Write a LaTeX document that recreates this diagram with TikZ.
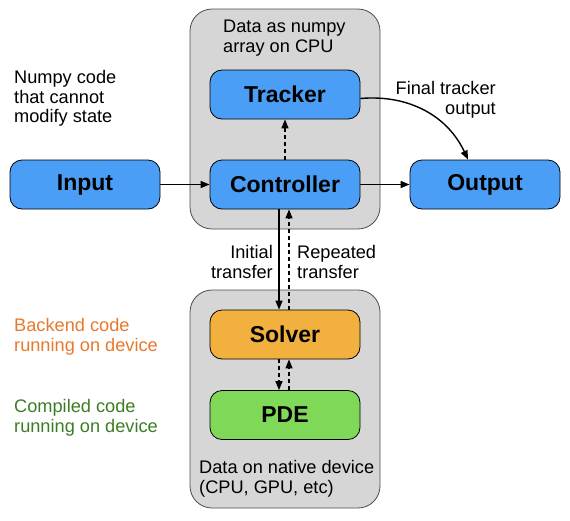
\documentclass[tikz,border=0pt]{standalone}
\usepackage{fontspec}
\setmainfont{Liberation Sans}
\usetikzlibrary{arrows.meta}

\definecolor{boxblue}{HTML}{4A9EF5}
\definecolor{boxorange}{HTML}{F2B03E}
\definecolor{boxgreen}{HTML}{7FD858}
\definecolor{regiongray}{HTML}{D6D6D6}
\definecolor{noteorange}{HTML}{E8782B}
\definecolor{notegreen}{HTML}{3B7D25}

\begin{document}
\begin{tikzpicture}
[x=1pt,y=-1pt,>={Triangle[length=9pt,width=7pt]},%
  block/.style={shape=rectangle,rounded corners=12pt,draw,line width=0.8pt,
    minimum width=150pt,minimum height=49pt,
    font=\fontsize{23}{27}\selectfont\bfseries},%
  region/.style={shape=rectangle,rounded corners=22pt,draw=black!70,line width=0.8pt,
    fill=regiongray,minimum width=190pt},%
  note/.style={inner sep=0pt,font=\fontsize{18.2}{19.8}\selectfont},%
  flow/.style={->,line width=1.4pt},%
  back/.style={->,line width=1.3pt,dash pattern=on 4pt off 3pt}]
\useasboundingbox (0,0) rectangle (570,520);
%%
\node[region,minimum height=220pt] (cpu) at (285,119) {};
\node[region,minimum height=218pt] (dev) at (285,399) {};
%%
\node[block,fill=boxblue] (input) at (85,184.5) {Input};
\node[block,fill=boxblue] (tracker) at (285,94.5) {Tracker};
\node[block,fill=boxblue] (controller) at (285,184.5) {Controller};
\node[block,fill=boxblue] (output) at (485,184.5) {Output};
\node[block,fill=boxorange] (solver) at (285,334.5) {Solver};
\node[block,fill=boxgreen] (pde) at (285,415) {PDE};
%%
\node[note,anchor=north west,align=left] (cpunote) at (223,20) {Data as numpy\\array on CPU};
\node[note,anchor=north west,align=left] (devnote) at (199,460) {Data on native device\\(CPU, GPU, etc)};
\node[note,anchor=north west,align=left] (numpynote) at (14,70) {Numpy code\\that cannot\\modify state};
\node[note,anchor=north west,align=left,text=noteorange] (backendnote) at (14,318) {Backend code\\running on device};
\node[note,anchor=north west,align=left,text=notegreen] (compilednote) at (14,399) {Compiled code\\running on device};
\node[note,anchor=north east,align=right] (finalnote) at (496,81) {Final tracker\\output};
\node[note,anchor=north east,align=right] (initnote) at (273,245) {Initial\\transfer};
\node[note,anchor=north west,align=left] (repnote) at (297,245) {Repeated\\transfer};
%%
\path
\foreach \startNode/\endNode in {input/controller, controller/output}
{
  (\startNode) edge[flow] (\endNode)
};
\draw[back] (controller) -- (tracker);
\draw[flow] ([yshift=-4pt]tracker.east) to[out=5,in=115] ([xshift=-17pt]output.north);
\draw[flow] ([xshift=-6pt]controller.south) -- ([xshift=-6pt]solver.north);
\draw[back] ([xshift=4pt]solver.north) -- ([xshift=4pt]controller.south);
\draw[back] ([xshift=-6pt]solver.south) -- ([xshift=-6pt]pde.north);
\draw[back] ([xshift=4pt]pde.north) -- ([xshift=4pt]solver.south);
\end{tikzpicture}
\end{document}
